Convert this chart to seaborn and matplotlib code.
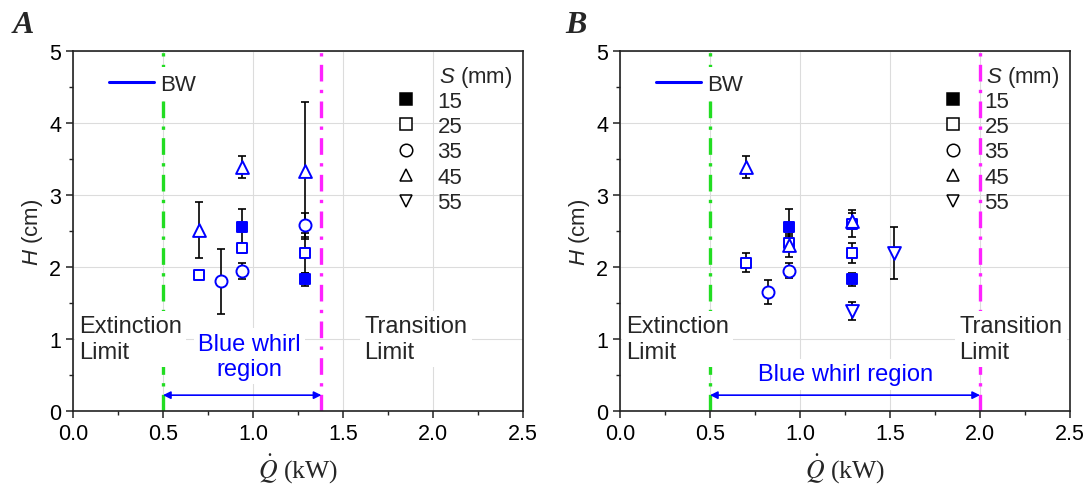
import numpy as np
import pandas as pd
import matplotlib
matplotlib.use("Agg")
import matplotlib.pyplot as plt
import seaborn as sns
from matplotlib.lines import Line2D
from matplotlib.ticker import MultipleLocator

# ---------------- data ----------------
S_values = [15, 25, 35, 45, 55]
S_labels = ["15", "25", "35", "45", "55"]

# Panel A
qA_15 = [0.94, 1.29]; hA_15 = [2.56, 1.83]; eA_15 = [0.24, 0.09]
qA_25 = [0.70, 0.94, 1.29]; hA_25 = [1.89, 2.26, 2.19]; eA_25 = [0.03, 0.07, 0.28]
qA_35 = [0.82, 0.94, 1.29]; hA_35 = [1.80, 1.95, 2.58]; eA_35 = [0.45, 0.11, 0.17]
qA_45 = [0.70, 0.94, 1.29]; hA_45 = [2.51, 3.39, 3.34]; eA_45 = [0.39, 0.15, 0.95]
qA_55 = []; hA_55 = []; eA_55 = []

# Panel B
qB_15 = [0.94, 1.29]; hB_15 = [2.56, 1.83]; eB_15 = [0.24, 0.09]
qB_25 = [0.70, 0.94, 1.29, 1.29]; hB_25 = [2.06, 2.33, 2.20, 2.60]; eB_25 = [0.13, 0.10, 0.14, 0.19]
qB_35 = [0.82, 0.94]; hB_35 = [1.65, 1.95]; eB_35 = [0.17, 0.10]
qB_45 = [0.70, 0.94, 1.29]; hB_45 = [3.39, 2.30, 2.64]; eB_45 = [0.15, 0.16, 0.11]
qB_55 = [1.29, 1.52]; hB_55 = [1.39, 2.19]; eB_55 = [0.13, 0.36]

extinction_limit = [0.5, 0.5]
transition_limit = [1.38, 2.0]
panel_letters = ["A", "B"]

def frame(qs, hs, es):
    rows = []
    for s, q, h, e in zip(S_values, qs, hs, es):
        for qi, hi, ei in zip(q, h, e):
            rows.append({"S": s, "Q": qi, "H": hi, "err": ei})
    return pd.DataFrame(rows)

dfA = frame([qA_15, qA_25, qA_35, qA_45, qA_55],
            [hA_15, hA_25, hA_35, hA_45, hA_55],
            [eA_15, eA_25, eA_35, eA_45, eA_55])
dfB = frame([qB_15, qB_25, qB_35, qB_45, qB_55],
            [hB_15, hB_25, hB_35, hB_45, hB_55],
            [eB_15, eB_25, eB_35, eB_45, eB_55])

# ---------------- style ----------------
sns.set_style("white")
plt.rcParams["font.family"] = ["Liberation Sans", "DejaVu Sans"]
plt.rcParams["mathtext.fontset"] = "custom"
plt.rcParams["mathtext.it"] = "Liberation Sans:italic"
plt.rcParams["mathtext.rm"] = "Liberation Sans"

marker_map = {15: "s", 25: "s", 35: "o", 45: "^", 55: "v"}
face_map = {15: "blue", 25: "white", 35: "white", 45: "white", 55: "white"}
size_map = {15: 60, 25: 60, 35: 75, 45: 85, 55: 85}
FS = 16

fig = plt.figure(figsize=(10.91, 4.89), dpi=100)
axA = fig.add_axes([73 / 1091, 1 - 412 / 489, 450 / 1091, 360 / 489])
axB = fig.add_axes([620 / 1091, 1 - 412 / 489, 450 / 1091, 360 / 489])

panel_cfg = [
    (axA, dfA, transition_limit[0], dict(text="Blue whirl\nregion", x=0.98, y=0.76), 1.62),
    (axB, dfB, transition_limit[1], dict(text="Blue whirl region", x=1.255, y=0.51), 1.885),
]

bbox_w = dict(facecolor="white", edgecolor="none", pad=3)

for ax, df, tlim, bw, tx in panel_cfg:
    ax.set_xlim(0, 2.5)
    ax.set_ylim(0, 5)
    ax.xaxis.set_major_locator(MultipleLocator(0.5))
    ax.xaxis.set_minor_locator(MultipleLocator(0.25))
    ax.yaxis.set_major_locator(MultipleLocator(1))
    ax.yaxis.set_minor_locator(MultipleLocator(0.5))
    ax.grid(True, which="major", color="#dcdcdc", lw=0.8)
    ax.set_axisbelow(True)
    ax.tick_params(which="major", direction="out", length=5, width=1.1,
                   labelsize=15.5, colors="#222222", left=True, bottom=True)
    ax.tick_params(which="minor", direction="out", length=3, width=1.0,
                   left=True, bottom=True, colors="#222222")
    ax.tick_params(axis="both", labelcolor="black")
    ax.set_xticks([0, 0.5, 1.0, 1.5, 2.0, 2.5])
    ax.set_xticklabels(["0.0", "0.5", "1.0", "1.5", "2.0", "2.5"])
    for sp in ax.spines.values():
        sp.set_visible(True)
        sp.set_linewidth(1.2)
        sp.set_color("#222222")

    # limit lines
    ax.axvline(extinction_limit[0], color="#22dd22", lw=2.4,
               ls=(0, (5, 2.5, 1, 2.5)), zorder=2)
    ax.axvline(tlim, color="#ff22ff", lw=2.4,
               ls=(0, (5, 2.5, 1, 2.5)), zorder=2)

    # error bars
    ax.errorbar(df["Q"], df["H"], yerr=df["err"], fmt="none", ecolor="black",
                elinewidth=1.2, capsize=3.2, capthick=1.2, zorder=3)
    # markers
    for s in S_values:
        sub = df[df["S"] == s]
        if len(sub) == 0:
            continue
        sns.scatterplot(data=sub, x="Q", y="H", marker=marker_map[s],
                        s=size_map[s], facecolor=face_map[s], edgecolor="blue",
                        linewidth=1.4, ax=ax, zorder=5, legend=False)

    # arrow
    ax.annotate("", xy=(tlim, 0.22), xytext=(extinction_limit[0], 0.22),
                arrowprops=dict(arrowstyle="<|-|>", color="blue", lw=1.2,
                                mutation_scale=11, shrinkA=0, shrinkB=0),
                zorder=4)

    # texts
    ax.text(0.035, 1.0, "Extinction\nLimit", fontsize=17, ha="left", va="center",
            linespacing=1.2, bbox=bbox_w, zorder=4)
    ax.text(tx, 1.0, "Transition\nLimit", fontsize=17, ha="left", va="center",
            linespacing=1.2, bbox=bbox_w, zorder=4)
    ax.text(bw["x"], bw["y"], bw["text"], fontsize=17, color="blue", ha="center",
            va="center", multialignment="center", linespacing=1.2,
            bbox=bbox_w, zorder=4)

    # BW legend
    bw_handle = [Line2D([], [], color="blue", lw=2.2)]
    leg1 = ax.legend(bw_handle, ["BW"], loc="center left",
                     bbox_to_anchor=(0.165, 4.54), bbox_transform=ax.transData,
                     frameon=True, fontsize=FS, handlelength=2.0,
                     handletextpad=0.3, borderpad=0.3, borderaxespad=0)
    leg1.get_frame().set_facecolor("white")
    leg1.get_frame().set_edgecolor("none")
    leg1.get_frame().set_alpha(1)
    leg1.set_zorder(6)
    ax.add_artist(leg1)

    # S legend
    s_handles = [Line2D([], [], ls="none", marker=marker_map[s], markersize=9,
                        markerfacecolor=("black" if s == 15 else "white"),
                        markeredgecolor="black", markeredgewidth=1.1)
                 for s in S_values]
    leg2 = ax.legend(s_handles, S_labels, loc="upper left",
                     bbox_to_anchor=(1.79, 4.45), bbox_transform=ax.transData,
                     frameon=False, fontsize=FS, handlelength=1.0,
                     handletextpad=0.9, labelspacing=0.2, borderpad=0,
                     borderaxespad=0)
    ax.text(2.24, 4.64, "$S$ (mm)", fontsize=FS, ha="center", va="center")

    ax.set_xlabel(r"$\dot{Q}$ (kW)", fontsize=18.5, fontfamily="Liberation Serif",
                  math_fontfamily="stix", labelpad=5)
    ax.set_ylabel("$H$ (cm)", fontsize=16, labelpad=3)

for letter, xpos in zip(panel_letters, [0.012, 0.518]):
    fig.text(xpos, 0.932, letter, fontfamily="Liberation Serif", fontweight="bold",
             fontstyle="italic", fontsize=23, va="baseline", ha="left")

fig.savefig("out.png", dpi=100)
